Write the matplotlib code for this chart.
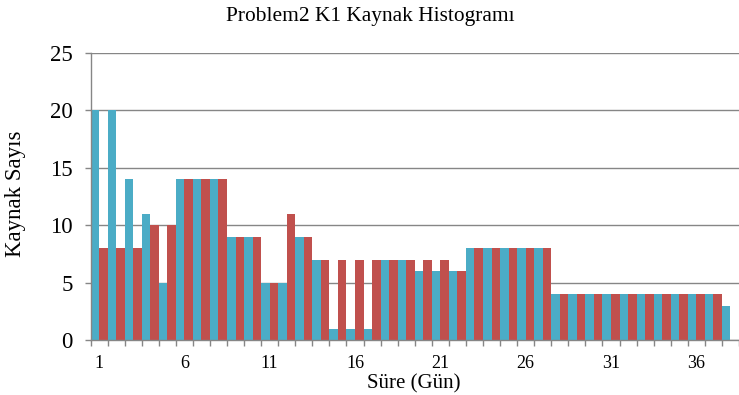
import numpy as np
import matplotlib.pyplot as plt

# ============================================================================
# DATA
# ============================================================================
days = list(range(1, 39))
blue_vals = [20, 20, 14, 11, 5, 14, 14, 14, 9, 9, 5, 5, 9, 7, 1, 1, 1, 7, 7, 6,
             6, 6, 8, 8, 8, 8, 8, 4, 4, 4, 4, 4, 4, 4, 4, 4, 4, 3]
red_vals = [8, 8, 8, 10, 10, 14, 14, 14, 9, 9, 5, 11, 9, 7, 7, 7, 7, 7, 7, 7,
            7, 6, 8, 8, 8, 8, 8, 4, 4, 4, 4, 4, 4, 4, 4, 4, 4, 0]
tick_days = [1, 6, 11, 16, 21, 26, 31, 36]
y_ticks = [0, 5, 10, 15, 20, 25]

title = 'Problem2 K1 Kaynak Histogramı'
xlabel = 'Süre (Gün)'
ylabel = 'Kaynak Sayıs'

plt.rcParams['font.family'] = ['Liberation Serif', 'DejaVu Serif']

BLUE = '#4BACC6'
RED = '#C0504D'
GRAY = '#868686'

fig = plt.figure(figsize=(7.39, 3.95), dpi=100)
ax = fig.add_axes([90.5 / 739, 1 - 340 / 395, (739 - 90.5) / 739, (340 - 52.7) / 395])

x = np.arange(len(days))
ax.bar(x - 0.25, blue_vals, width=0.5, color=BLUE, zorder=2)
ax.bar(x + 0.25, red_vals, width=0.5, color=RED, zorder=2)

ax.set_xlim(-0.5, 37.05)
ax.set_ylim(0, 25)

# gridlines
ax.set_yticks(y_ticks)
ax.yaxis.grid(True, color=GRAY, linewidth=1.0, zorder=0)
ax.set_axisbelow(True)

# x ticks: boundary marks as minor, labels as major (no mark)
ax.set_xticks([d - 1 for d in tick_days])
ax.set_xticklabels([str(d) for d in tick_days], fontsize=13)
ax.set_xticks(np.arange(-0.5, 38, 1), minor=True)
ax.tick_params(axis='x', which='major', length=0, pad=10.5)
ax.tick_params(axis='x', which='minor', length=4.5, color=GRAY, width=1)
ax.tick_params(axis='y', length=4, color=GRAY, width=1, labelsize=16.5, pad=9)

for s in ['top', 'right']:
    ax.spines[s].set_visible(False)
for s in ['left', 'bottom']:
    ax.spines[s].set_color(GRAY)
    ax.spines[s].set_linewidth(1.0)

fig.text(370 / 739, 1 - 17 / 395, title, ha='center', va='center', fontsize=15.4)
fig.text(414 / 739, 1 - 384 / 395, xlabel, ha='center', va='center', fontsize=15)
fig.text(16 / 739, 1 - 194 / 395, ylabel, ha='center', va='center',
         rotation=90, fontsize=16.5)

plt.savefig('out.png', dpi=100)
